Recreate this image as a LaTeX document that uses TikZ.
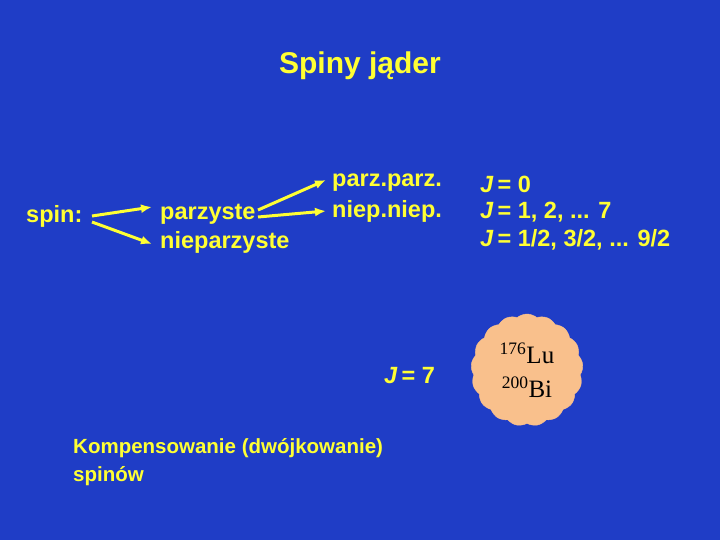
\documentclass[tikz,border=0pt]{standalone}
\usepackage{fontspec}
\setmainfont{Liberation Sans}
\newfontfamily\serifnum{Liberation Serif}
\usetikzlibrary{shapes.symbols,arrows.meta}
\definecolor{bg}{HTML}{1F3DC6}
\definecolor{yel}{HTML}{FFFF33}
\definecolor{cloudc}{HTML}{F9C08C}
\begin{document}
\begin{tikzpicture}[x=1pt,y=-1pt,
  txt/.style={text=yel,font=\bfseries\fontsize{23.5}{28}\selectfont,anchor=west,inner sep=0pt},
  arr/.style={draw=yel,line width=3pt,-{Latex[length=11pt,width=9pt]}}]
\fill[bg] (0,0) rectangle (720,540);
\useasboundingbox (0,0) rectangle (720,540);
\node[text=yel,font=\bfseries\fontsize{30}{34}\selectfont,inner sep=0pt] (title) at (360,66) {Spiny jąder};
\node[txt] (spin) at (26,216) {spin:};
\node[txt] (pa) at (160,214) {parzyste};
\node[txt] (np) at (160,242) {nieparzyste};
\node[txt] (pp) at (332,183) {parz.parz.};
\node[txt] (nn) at (332,211) {niep.niep.};
\node[txt] (j0) at (480,184) {\textit{J}\,= 0};
\node[txt] (j1) at (480,212) {\textit{J}\,= 1, 2, ... 7};
\node[txt] (j2) at (480,240) {\textit{J}\,= 1/2, 3/2, ... 9/2};
\node[txt] (j7) at (384,376) {\textit{J}\,= 7};
\node[cloud,cloud puffs=17,cloud puff arc=80,aspect=1,fill=cloudc,draw=cloudc,minimum width=112pt,minimum height=112pt,inner sep=0pt,align=center,font=\serifnum\fontsize{25}{34}\selectfont] (cl) at (527,370) {\textsuperscript{176}Lu\\\textsuperscript{200}Bi};
\node[txt,align=left,anchor=north west,font=\bfseries\fontsize{20.5}{28}\selectfont] (komp) at (73,438) {Kompensowanie (dwójkowanie)\\spinów};
\coordinate (s1) at (92,216); \coordinate (s2) at (92,222);
\coordinate (p1) at (258,210); \coordinate (p2) at (258,217);
\draw[arr] (s1) -- (152,207);
\draw[arr] (s2) -- (152,244);
\draw[arr] (p1) -- (326,180);
\draw[arr] (p2) -- (326,211);
\end{tikzpicture}
\end{document}
